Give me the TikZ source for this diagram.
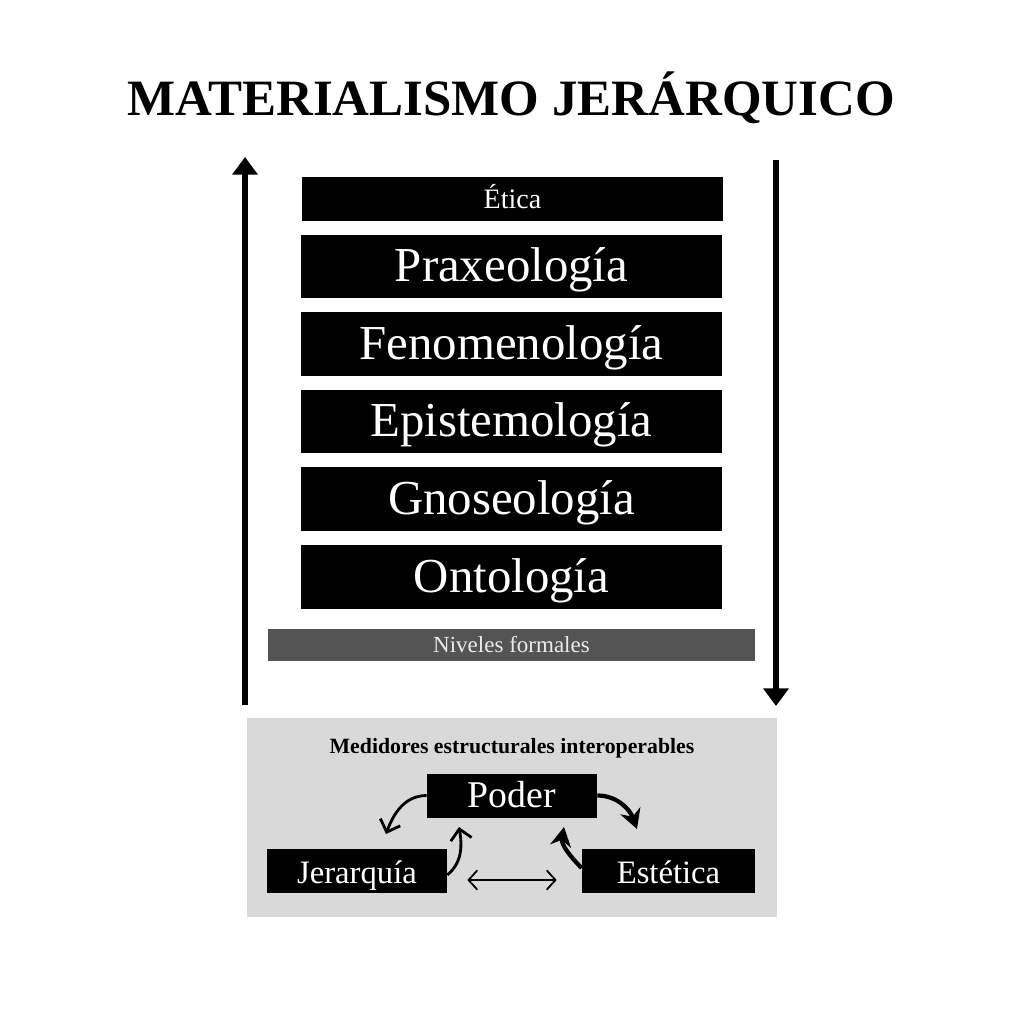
\documentclass[tikz,border=0pt]{standalone}
\usepackage{fontspec}
\setmainfont{Liberation Serif}
\usetikzlibrary{arrows.meta}
\tikzstyle{level} = [rectangle, fill=black, text=white, inner sep=0pt, minimum width=8.42cm, minimum height=1.27cm, text height=19pt, text depth=1.8pt, font=\fontsize{27.8}{30}\selectfont]
\tikzstyle{toplevel} = [level, minimum height=0.88cm, text height=11pt, text depth=0pt, font=\fontsize{16}{18}\selectfont]
\tikzstyle{formal} = [rectangle, fill=black!67, text=black!8, inner sep=0pt, minimum width=9.74cm, minimum height=0.64cm, text height=8pt, text depth=0pt, font=\fontsize{13.1}{15}\selectfont]
\tikzstyle{medidor} = [rectangle, fill=black, text=white, inner sep=0pt, minimum height=0.88cm, text height=14.2pt, text depth=0pt, font=\fontsize{18.6}{20}\selectfont]
\tikzstyle{bigarrow} = [line width=3.4pt, -{Triangle[width=14pt,length=10pt]}]
\tikzstyle{turnthin} = [line width=1.6pt, -{Straight Barb[length=6pt,width=12pt]}]
\tikzstyle{turnthick} = [line width=2.4pt, -{Stealth[length=11pt,width=12pt]}]

\begin{document}
\begin{tikzpicture}[x=0.02cm, y=-0.02cm]
\useasboundingbox (0,0) rectangle (1024,1024);

    \node[anchor=base, font=\fontsize{29}{32}\selectfont\bfseries] (title) at (511,115) {MATERIALISMO JERÁRQUICO};

	\node[toplevel] (etica) at (512.5,199) {Ética};
	\node[level] (praxeologia) at (511.5,266.5) {Praxeología};
	\node[level] (fenomenologia) at (511.5,344) {Fenomenología};
	\node[level] (epistemologia) at (511.5,421.5) {Epistemología};
	\node[level] (gnoseologia) at (511.5,499) {Gnoseología};
	\node[level] (ontologia) at (511.5,577) {Ontología};
	\node[formal] (niveles) at (511.5,645) {Niveles formales};

    \coordinate (upfoot) at (245,705);
    \coordinate (uphead) at (245,157);
    \coordinate (downfoot) at (776,160);
    \coordinate (downhead) at (776,706);
    \draw[bigarrow] (upfoot) -- (uphead);
    \draw[bigarrow] (downfoot) -- (downhead);

    \node[rectangle, fill=black!15, inner sep=0pt, minimum width=10.6cm, minimum height=3.98cm] (medidores) at (512,817.5) {};
    \node[anchor=base, font=\fontsize{12.4}{14}\selectfont\bfseries] (medtitle) at (512,753) {Medidores estructurales interoperables};

	\node[medidor, minimum width=3.4cm, text height=13.7pt, font=\fontsize{21.5}{23}\selectfont] (poder) at (512,795.5) {Poder};
	\node[medidor, minimum width=3.6cm] (jerarquia) at (357,871) {Jerarquía};
	\node[medidor, minimum width=3.46cm] (estetica) at (668.5,871) {Estética};

    \coordinate (pjtip) at (386,834);
    \coordinate (petip) at (637,829);
    \coordinate (jptip) at (459,827);
    \coordinate (eptip) at (564,827);
    \draw[turnthin] (poder.west) to[out=180,in=70] (pjtip);
    \draw[turnthick] (poder.east) to[out=0,in=110] (petip);
    \draw[turnthin] ([yshift=-0.08cm]jerarquia.east) to[out=40,in=-80] (jptip);
    \draw[turnthick] ([yshift=0.06cm]estetica.west) to[out=135,in=-100] (eptip);
    \draw[line width=1pt, {Straight Barb[length=5pt,width=11pt]}-{Straight Barb[length=5pt,width=11pt]}, shorten <=0.4cm, shorten >=0.5cm] ([yshift=-0.18cm]jerarquia.east) -- ([yshift=-0.18cm]estetica.west);
\end{tikzpicture}
\end{document}
